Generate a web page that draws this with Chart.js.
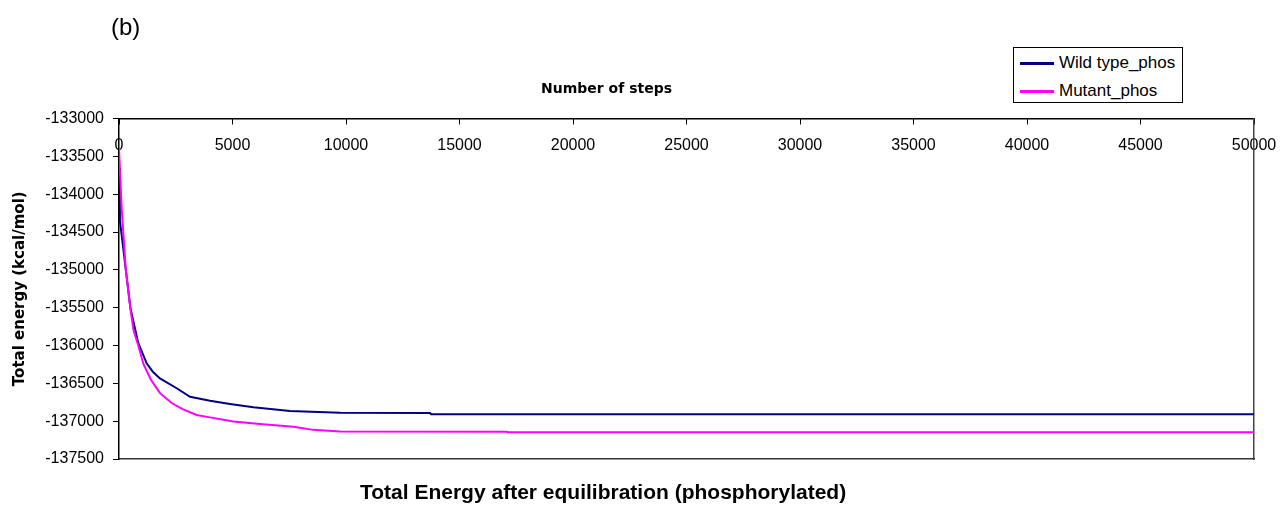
<!DOCTYPE html>
<html>
<head>
<meta charset="utf-8">
<script src="https://cdn.jsdelivr.net/npm/chart.js@4.4.1/dist/chart.umd.min.js"></script>
<style>
  html, body { margin: 0; padding: 0; background: #fff; }
  #wrap { position: relative; width: 1282px; height: 506px; }
  #energy { position: absolute; left: 0; top: 0; }
  #panel-tag {
    position: absolute; left: 111px; top: 13px;
    font: 24px "Liberation Sans", Arial, sans-serif; color: #000;
  }
  #steps-title {
    position: absolute; left: 541px; top: 80px; line-height: 16px; white-space: nowrap;
    font: bold 14px "DejaVu Sans", sans-serif; color: #000;
  }
  #legend-box {
    position: absolute; left: 1013px; top: 47px; width: 168px; height: 54px;
    border: 1px solid #000; background: #fff;
    font: 17px "Liberation Sans", Arial, sans-serif; color: #000;
  }
  .legend-row { position: absolute; left: 6px; height: 20px; display: flex; align-items: center; }
  .legend-row .swatch { width: 34px; height: 3px; margin-right: 5px; }
  #caption {
    position: absolute; left: 360px; top: 480px; white-space: nowrap;
    font: bold 21px "Liberation Sans", Arial, sans-serif; color: #000;
  }
</style>
</head>
<body>
<div id="wrap">
  <canvas id="energy" width="1282" height="506"></canvas>
  <div id="panel-tag">(b)</div>
  <div id="steps-title">Number of steps</div>
  <div id="legend-box"></div>
  <div id="caption">Total Energy after equilibration (phosphorylated)</div>
</div>
<script>
// Total energy vs. minimisation steps, phosphorylated systems
const wildSteps = [0, 40, 150, 300, 500, 850, 1220, 1500, 1806, 2540, 3130, 4010, 4890, 5920, 7530, 9736, 13700, 13750, 50000];
const wildEnergy = [-133650, -134350, -134620, -135000, -135500, -135970, -136235, -136350, -136435, -136565, -136677, -136730, -136773, -136817, -136866, -136888, -136893, -136909, -136909];

const mutantSteps = [0, 120, 300, 510, 640, 850, 1070, 1400, 1806, 2320, 2800, 3420, 4010, 5035, 6210, 7680, 8560, 9736, 17080, 17120, 50000];
const mutantEnergy = [-133400, -134200, -135000, -135530, -135800, -136000, -136240, -136450, -136630, -136760, -136840, -136918, -136950, -137005, -137037, -137073, -137115, -137138, -137139, -137146, -137146];

const seriesNames = ['Wild type_phos', 'Mutant_phos'];
const seriesColors = ['#000080', '#ff00ff'];

const stepMin = 0, stepMax = 50000, stepTick = 5000;
const energyMin = -137500, energyMax = -133000, energyTick = 500;

const tickFont = { family: '"Liberation Sans", Arial, sans-serif', size: 16 };

function toPoints(xs, ys) {
    return xs.map((x, i) => ({ x: x, y: ys[i] }));
}

const datasets = [
    { label: seriesNames[0], data: toPoints(wildSteps, wildEnergy), borderColor: seriesColors[0], order: 2 },
    { label: seriesNames[1], data: toPoints(mutantSteps, mutantEnergy), borderColor: seriesColors[1], order: 1 }
].map(ds => Object.assign(ds, { borderWidth: 2, pointRadius: 0, tension: 0, fill: false }));

new Chart(document.getElementById('energy').getContext('2d'), {
    type: 'line',
    data: { datasets: datasets },
    options: {
        responsive: false,
        animation: false,
        events: [],
        layout: { padding: { top: 60, right: 28, bottom: 47, left: 0 } },
        scales: {
            x: {
                type: 'linear',
                position: 'top',
                min: stepMin,
                max: stepMax,
                afterFit: (scale) => {
                    scale.height = 58.5;
                    // the end labels may overhang the plot edges
                    scale.paddingLeft = 0;
                    scale.paddingRight = 0;
                },
                ticks: {
                    stepSize: stepTick,
                    font: tickFont,
                    color: '#000',
                    mirror: true,   // labels sit under the top axis line
                    padding: 17,
                    maxRotation: 0,
                    autoSkip: false,
                    callback: (v) => String(v)
                },
                grid: { drawOnChartArea: false, tickLength: -6, color: '#000', lineWidth: 1 },
                border: { display: true, color: '#000', width: 1.5 }
            },
            x2: {
                type: 'linear',
                position: 'bottom',
                afterFit: (scale) => { scale.height = 0; },
                ticks: { display: false },
                grid: { display: false, drawTicks: false },
                border: { display: true, color: '#333', width: 1.5 }
            },
            y: {
                type: 'linear',
                position: 'left',
                min: energyMin,
                max: energyMax,
                afterFit: (scale) => { scale.width = 119; },
                ticks: {
                    stepSize: energyTick,
                    font: tickFont,
                    color: '#000',
                    padding: 9,
                    callback: (v) => String(v)
                },
                grid: { drawOnChartArea: false, tickLength: 6, color: '#000', lineWidth: 1 },
                border: { display: true, color: '#000', width: 1.5 },
                title: {
                    display: true,
                    text: 'Total energy (kcal/mol)',
                    font: { family: '"DejaVu Sans", sans-serif', size: 15, weight: 'bold' },
                    color: '#000',
                    padding: { top: 11, bottom: 0 }
                }
            },
            y2: {
                type: 'linear',
                position: 'right',
                afterFit: (scale) => { scale.width = 0; },
                ticks: { display: false },
                grid: { display: false, drawTicks: false },
                border: { display: true, color: '#444', width: 1.5 }
            }
        },
        plugins: {
            legend: { display: false },
            tooltip: { enabled: false }
        }
    }
});

// HTML legend with a framed box
const legendBox = document.getElementById('legend-box');
seriesNames.forEach((name, i) => {
    const row = document.createElement('div');
    row.className = 'legend-row';
    row.style.top = (5 + i * 28) + 'px';
    const swatch = document.createElement('div');
    swatch.className = 'swatch';
    swatch.style.background = seriesColors[i];
    const label = document.createElement('span');
    label.textContent = name;
    row.appendChild(swatch);
    row.appendChild(label);
    legendBox.appendChild(row);
});
</script>
</body>
</html>
